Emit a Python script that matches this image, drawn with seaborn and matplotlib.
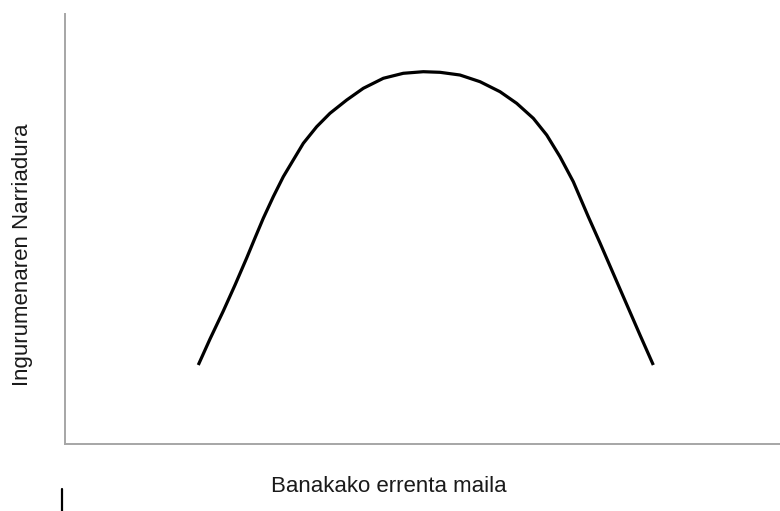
import matplotlib
matplotlib.use("Agg")
import matplotlib.pyplot as plt
from matplotlib.lines import Line2D
import seaborn as sns
import pandas as pd

# Data (income level vs. environmental degradation, arbitrary units 0-100)
income = [18.64, 20.28, 22.14, 23.78, 25.41, 26.57, 27.73, 29.13, 30.53, 31.93,
          33.33, 35.20, 37.06, 39.40, 41.72, 44.52, 47.31, 50.11, 52.45, 55.24,
          58.04, 60.84, 63.17, 65.50, 67.37, 69.23, 71.09, 73.19, 74.83, 77.62,
          80.42, 82.28]
degradation = [18.37, 24.42, 30.93, 36.98, 43.26, 47.91, 52.49, 57.51, 62.16, 66.05,
               69.93, 73.79, 76.91, 80.00, 82.72, 85.05, 86.21, 86.58, 86.44, 85.81,
               84.26, 81.93, 79.23, 75.74, 71.86, 66.81, 61.00, 52.86, 46.74, 36.05,
               25.35, 18.37]
x_label = "Banakako errenta maila"
y_label = "Ingurumenaren Narriadura"

sns.set_theme(style="white")
plt.rcParams["font.family"] = ["Liberation Sans", "DejaVu Sans"]

df = pd.DataFrame({"income": income, "degradation": degradation})

fig = plt.figure(figsize=(7.8, 5.11), dpi=100)
ax = fig.add_axes([65 / 780, 1 - 444 / 511, 715 / 780, 430 / 511])

sns.lineplot(data=df, x="income", y="degradation", sort=False, ax=ax,
             color="black", linewidth=2.3, solid_joinstyle="round",
             solid_capstyle="butt")

ax.set_xlim(0, 100)
ax.set_ylim(0, 100)
ax.set_xticks([])
ax.set_yticks([])
ax.set_xlabel("")
ax.set_ylabel("")
for side in ["top", "right"]:
    ax.spines[side].set_visible(False)
for side in ["left", "bottom"]:
    ax.spines[side].set_color("#a6a6a6")
    ax.spines[side].set_linewidth(1.4)

fig.text(388.7 / 780, 1 - 491.7 / 511, x_label, ha="center", va="baseline",
         fontsize=16, color="#1a1a1a")
fig.text(28.3 / 780, 1 - 255 / 511, y_label, ha="center", va="baseline",
         rotation=90, rotation_mode="anchor", fontsize=16, color="#1a1a1a")

fig.add_artist(Line2D([62 / 780, 62 / 780], [0.0, 1 - 489 / 511],
                      transform=fig.transFigure, color="black", linewidth=1.6))

fig.savefig("out.png", dpi=100, facecolor="white")
